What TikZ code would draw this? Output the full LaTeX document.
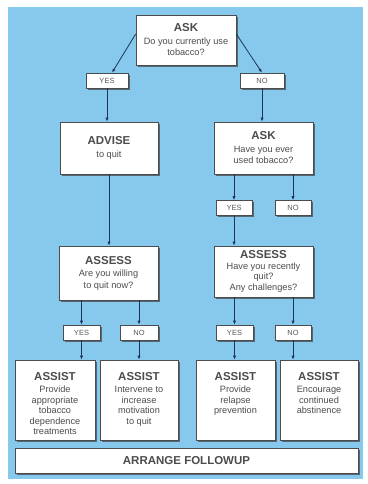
\documentclass[tikz,border=0pt]{standalone}
\usepackage{fontspec}
\setmainfont{Liberation Sans}
\usetikzlibrary{arrows.meta,shadows}
\definecolor{skyback}{RGB}{135,201,236}
\definecolor{linkblue}{RGB}{28,52,88}
\newcommand{\hd}[1]{{\fontsize{11.5}{13}\selectfont\bfseries #1}}
\newcommand{\assist}[1]{\parbox[c][80pt][t]{76pt}{\fontsize{9.2}{10.4}\selectfont\centering\vspace*{12pt}\hd{ASSIST}\\[2.5pt] #1}}
\tikzset{
  box/.style={draw=black!70, fill=white, line width=0.6pt, inner sep=0pt, align=center,
    text=black!70, font=\fontsize{9.2}{11.5}\selectfont,
    drop shadow={shadow xshift=1.6pt, shadow yshift=-1.6pt, opacity=0.7, fill=black!75}},
  ans/.style={box, minimum height=15pt, font=\fontsize{7.5}{9}\selectfont, text=black!65},
  link/.style={draw=linkblue, line width=0.8pt, -{Latex[length=4pt,width=3.2pt]}}
}
\begin{document}
\begin{tikzpicture}[x=1pt,y=-1pt]
\useasboundingbox (0,0) rectangle (367,484);
\fill[skyback] (8,7) rectangle (363,479);

\node[box, minimum width=100pt, minimum height=50pt] (ask1) at (186,40) {\hd{ASK}\\[1pt] Do you currently use\\ tobacco?};
\node[ans, minimum width=42pt] (yes1) at (107,80.5) {YES};
\node[ans, minimum width=44pt] (no1) at (262,80.5) {NO};

\node[box, minimum width=98pt, minimum height=52pt] (advise) at (109,148) {\hd{ADVISE}\\[1pt] to quit};
\node[box, minimum width=99pt, minimum height=52pt] (ask2) at (263.5,148) {\hd{ASK}\\[1pt] Have you ever\\ used tobacco?};
\node[ans, minimum width=36pt] (yes2) at (234,208) {YES};
\node[ans, minimum width=36pt] (no2) at (293,208) {NO};

\node[box, minimum width=99pt, minimum height=54pt] (assess1) at (108.5,273) {\hd{ASSESS}\\[1pt] Are you willing\\ to quit now?};
\node[box, minimum width=99pt, minimum height=51pt, font=\fontsize{9.2}{10.3}\selectfont] (assess2) at (263.5,271.5) {\hd{ASSESS}\\[0.5pt] Have you recently\\ quit?\\[0.5pt] Any challenges?};

\node[ans, minimum width=37pt] (yes3) at (81.5,332.5) {YES};
\node[ans, minimum width=38pt] (no3) at (139,332.5) {NO};
\node[ans, minimum width=37pt] (yes4) at (234.5,332.5) {YES};
\node[ans, minimum width=36pt] (no4) at (293,332.5) {NO};

\node[box, minimum width=80pt] (assist1) at (55,400) {\assist{Provide\\ appropriate\\ tobacco\\ dependence\\ treatments}};
\node[box, minimum width=78pt] (assist2) at (139,400) {\assist{Intervene to\\ increase\\ motivation\\ to quit}};
\node[box, minimum width=79pt] (assist3) at (235.5,400) {\assist{Provide\\ relapse\\ prevention}};
\node[box, minimum width=78pt] (assist4) at (319,400) {\assist{Encourage\\ continued\\ abstinence}};

\node[box, minimum width=343pt, minimum height=25pt] (arrange) at (186.5,460.5) {\hd{ARRANGE FOLLOWUP}};

\draw[link] ([yshift=6pt]ask1.west) -- ([xshift=5pt]yes1.north);
\draw[link] ([yshift=6pt]ask1.east) -- (no1.north);
\foreach \a/\b in {yes1/advise,no1/ask2,advise/assess1,yes2/assess2,yes3/assist1,no3/assist2,yes4/assist3,no4/assist4}
  \draw[link] (\a.south) -- (\a.south |- \b.north);
\foreach \a/\b in {ask2/yes2,ask2/no2,assess1/yes3,assess1/no3,assess2/yes4,assess2/no4}
  \draw[link] (\b.north |- \a.south) -- (\b.north);
\end{tikzpicture}
\end{document}
